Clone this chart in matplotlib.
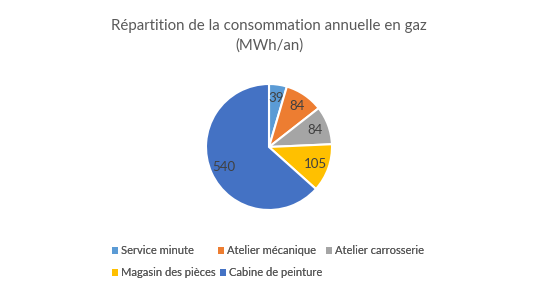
import matplotlib.pyplot as plt
from matplotlib.patches import Patch

# Data
categories = ['Service minute', 'Atelier mécanique', 'Atelier carrosserie',
              'Magasin des pièces', 'Cabine de peinture']
values = [39, 84, 84, 105, 540]
colors = ['#5B9BD5', '#ED7D31', '#A5A5A5', '#FFC000', '#4472C4']

plt.rcParams['font.family'] = ['Lato', 'DejaVu Sans']

fig = plt.figure(figsize=(5.56, 2.93), dpi=100)
fig.patch.set_facecolor('white')

# Pie centered at (269,147) px with radius ~63 px
ax = fig.add_axes([(269 - 63) / 556, 1 - (147 + 63) / 293, 126 / 556, 126 / 293])
wedges, texts = ax.pie(values, colors=colors, startangle=90, counterclock=False,
                       labels=[str(v) for v in values], labeldistance=0.78,
                       wedgeprops=dict(edgecolor='white', linewidth=1.5),
                       textprops=dict(color='#404040', fontsize=9.5))
for t in texts:
    t.set_horizontalalignment('center')
    t.set_verticalalignment('center')
ax.set_xlim(-1, 1)
ax.set_ylim(-1, 1)
ax.set_aspect('equal')

# Title
fig.text(269 / 556, 1 - 26 / 293, 'Répartition de la consommation annuelle en gaz',
         ha='center', va='center', fontsize=10.8, color='#595959')
fig.text(269 / 556, 1 - 46 / 293, '(MWh/an)',
         ha='center', va='center', fontsize=10.8, color='#595959')

# Legend items placed like Excel's flow layout
leg_x = [112, 218, 326, 112, 220]
leg_y = [251, 251, 251, 273, 273]
for lbl, c, x, y in zip(categories, colors, leg_x, leg_y):
    leg = fig.legend([Patch(facecolor=c, edgecolor='none')], [lbl],
                     loc='center left', bbox_to_anchor=(x / 556, 1 - y / 293),
                     frameon=False, fontsize=8, handlelength=0.55, handleheight=0.55,
                     handletextpad=0.3, borderaxespad=0, borderpad=0,
                     labelcolor='#595959')
    fig.add_artist(leg)

plt.savefig('out.png', dpi=100)
